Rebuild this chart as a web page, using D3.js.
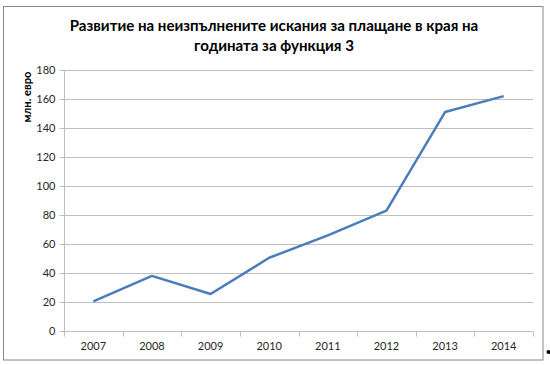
<!DOCTYPE html>
<html><head><meta charset="utf-8">
<script src="https://cdn.jsdelivr.net/npm/d3@7"></script>
<style>body{margin:0;background:#fff}svg{display:block}</style>
</head><body>
<svg id="c" width="550" height="365"></svg>
<script>
const titleLines = ["Развитие на неизпълнените искания за плащане в края на", "годината за функция 3"];
const yAxisTitle = "млн. евро";
const years = ["2007","2008","2009","2010","2011","2012","2013","2014"];
const values = [20.5, 38, 25.5, 50.5, 66, 83, 151, 162];
const yTicks = [0,20,40,60,80,100,120,140,160,180];

const svg = d3.select("#c");
const tickFont = "Lato, 'Open Sans', sans-serif";
const titleFont = "Lato, 'Noto Sans', sans-serif";
const m = {l:64, r:533, t:70, b:331};

svg.append("rect").attr("x",3.5).attr("y",6.5).attr("width",539.5).attr("height",353.5)
  .attr("fill","#fff").attr("stroke","#868686").attr("stroke-width",1);
svg.append("circle").attr("cx",548.5).attr("cy",352).attr("r",2).attr("fill","#000");

const x = d3.scaleBand().domain(years).range([m.l,m.r]);
const y = d3.scaleLinear().domain([0,180]).range([m.b,m.t]);

svg.append("g").selectAll("line").data(yTicks.filter(d=>d>0)).join("line")
  .attr("x1",m.l).attr("x2",m.r).attr("y1",d=>Math.round(y(d))+0.5).attr("y2",d=>Math.round(y(d))+0.5)
  .attr("stroke","#bfbfbf").attr("stroke-width",1);

const ya = svg.append("g").attr("transform",`translate(${m.l+0.5},0)`)
  .call(d3.axisLeft(y).tickValues(yTicks).tickSize(5).tickPadding(4));
ya.select(".domain").attr("stroke","#bfbfbf").attr("d",`M0,${m.t}V${m.b}`);
ya.selectAll(".tick line").attr("stroke","#bfbfbf");
ya.selectAll(".tick").attr("transform",d=>`translate(0,${Math.round(y(d))+0.5})`);
ya.selectAll("text").attr("font-family",tickFont).attr("font-size",11).attr("fill","#262626");

const xa = svg.append("g").attr("transform",`translate(0,${m.b+0.5})`)
  .call(d3.axisBottom(x).tickSize(0).tickPadding(11));
xa.select(".domain").attr("stroke","#bfbfbf").attr("d",`M${m.l},0H${m.r}`);
xa.selectAll("text").attr("font-family",tickFont).attr("font-size",11).attr("fill","#262626");
const bounds = years.map(d=>x(d)).concat([m.r]);
xa.append("g").selectAll("line").data(bounds).join("line")
  .attr("x1",d=>Math.round(d)+0.5).attr("x2",d=>Math.round(d)+0.5).attr("y1",0).attr("y2",5)
  .attr("stroke","#bfbfbf");

svg.append("path").datum(values.map((v,i)=>[years[i],v]))
  .attr("fill","none").attr("stroke","#4a7ebb").attr("stroke-width",2.5).attr("stroke-linejoin","round")
  .attr("d", d3.line().x(d=>x(d[0])+x.bandwidth()/2).y(d=>y(d[1])));

const t0 = svg.append("text").attr("x",274).attr("y",31).attr("text-anchor","middle")
  .attr("font-family",titleFont).attr("font-weight","bold").attr("font-size",14).attr("fill","#000").text(titleLines[0]);
const fs = 14*409/t0.node().getComputedTextLength();
t0.attr("font-size",fs);
svg.append("text").attr("x",274).attr("y",51).attr("text-anchor","middle")
  .attr("font-family",titleFont).attr("font-weight","bold").attr("font-size",fs).attr("fill","#000").text(titleLines[1]);

const yt = svg.append("text").attr("transform","translate(31,97) rotate(-90)").attr("text-anchor","middle")
  .attr("font-family",titleFont).attr("font-weight","bold").attr("font-size",10).attr("fill","#000").text(yAxisTitle);
yt.attr("font-size",10*51/yt.node().getComputedTextLength());
</script>
</body></html>
